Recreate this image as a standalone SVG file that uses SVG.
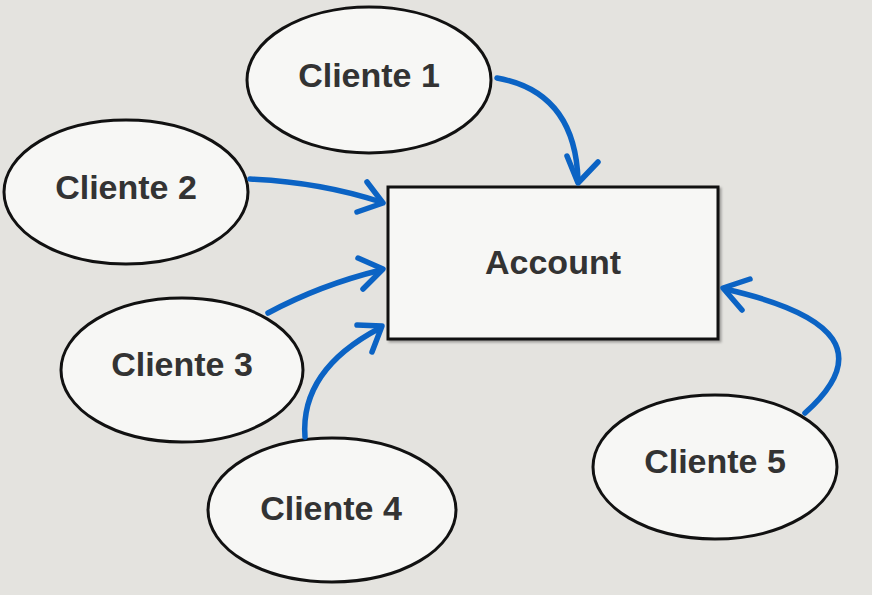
<svg xmlns="http://www.w3.org/2000/svg" width="872" height="595" viewBox="0 0 872 595">
<style>
.node{fill:#f7f7f5;stroke:#111;stroke-width:3}
.lbl{font-family:"Liberation Sans",Arial,sans-serif;font-weight:bold;font-size:34px;fill:#333;text-anchor:middle}
.arr{fill:none;stroke:#0b63c4;stroke-width:5.5;stroke-linecap:round;stroke-linejoin:round}
</style>
<rect width="872" height="595" fill="#e4e3df"/>
<g id="account">
<rect class="node" x="388" y="187" width="330" height="152" style="filter:drop-shadow(2px 2px 1px rgba(0,0,0,0.3))"/>
<text class="lbl" x="553" y="274">Account</text>
</g>
<g id="cliente1">
<ellipse class="node" cx="369" cy="80" rx="122" ry="73"/>
<text class="lbl" x="369" y="87">Cliente 1</text>
</g>
<g id="cliente2">
<ellipse class="node" cx="126" cy="192" rx="122" ry="72"/>
<text class="lbl" x="126" y="199">Cliente 2</text>
</g>
<g id="cliente3">
<ellipse class="node" cx="182" cy="370" rx="121" ry="72"/>
<text class="lbl" x="182" y="376">Cliente 3</text>
</g>
<g id="cliente4">
<ellipse class="node" cx="332" cy="510" rx="124" ry="72"/>
<text class="lbl" x="331" y="520">Cliente 4</text>
</g>
<g id="cliente5">
<ellipse class="node" cx="715" cy="467" rx="122" ry="72"/>
<text class="lbl" x="715" y="473">Cliente 5</text>
</g>
<g id="connectors">
<path class="arr" d="M497,78 Q575,92 578,180"/>
<path class="arr" d="M567,156 L578,183 L598,162"/>
<path class="arr" d="M250,179 Q320,182 381,202"/>
<path class="arr" d="M367,182 L383,203 L357,212"/>
<path class="arr" d="M268,313 Q320,285 381,270"/>
<path class="arr" d="M358,258 L383,269 L363,289"/>
<path class="arr" d="M305,437 Q300,370 380,328"/>
<path class="arr" d="M357,325 L382,326 L372,352"/>
<path class="arr" d="M805,413 C870,355 840,315 725,289"/>
<path class="arr" d="M750,279 L723,288 L742,310"/>
</g>
</svg>
